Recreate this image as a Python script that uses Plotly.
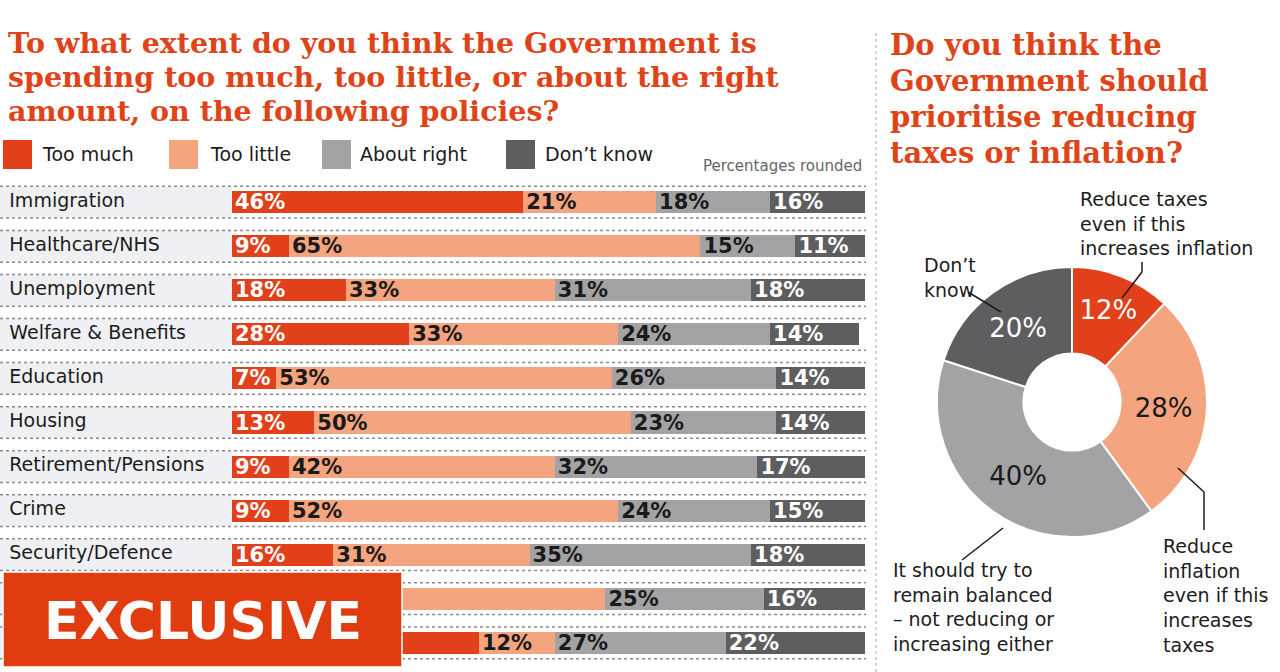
import plotly.graph_objects as go

W, H = 1280, 672

# ---------------- data ----------------
categories = ["Immigration", "Healthcare/NHS", "Unemployment", "Welfare & Benefits",
              "Education", "Housing", "Retirement/Pensions", "Crime",
              "Security/Defence", "Transport", "Foreign aid"]
series_names = ["Too much", "Too little", "About right", "Don\u2019t know"]
too_much = [46, 9, 18, 28, 7, 13, 9, 9, 16, 12, 39]
too_little = [21, 65, 33, 33, 53, 50, 42, 52, 31, 47, 12]
about_right = [18, 15, 31, 24, 26, 23, 32, 24, 35, 25, 27]
dont_know = [16, 11, 18, 14, 14, 14, 17, 15, 18, 16, 22]

pie_labels = ["Reduce taxes even if this increases inflation",
              "Reduce inflation even if this increases taxes",
              "It should try to remain balanced \u2013 not reducing or increasing either",
              "Don\u2019t know"]
pie_values = [12, 28, 40, 20]

left_title = ["To what extent do you think the Government is",
              "spending too much, too little, or about the right",
              "amount, on the following policies?"]
right_title = ["Do you think the", "Government should", "prioritise reducing",
               "taxes or inflation?"]

# ---------------- style ----------------
colors = ["#e2401b", "#f4a47f", "#a3a3a5", "#5e5e60"]
text_colors = ["white", "#1a1a1a", "#1a1a1a", "white"]
ORANGE = "#df4318"
SANS = "DejaVu Sans"
SERIF = "DejaVu Serif"


def px(x):
    return x / W


def py(y):
    return 1 - y / H


fig = go.Figure()

series = [too_much, too_little, about_right, dont_know]
for name, vals, col, tcol in zip(series_names, series, colors, text_colors):
    fig.add_trace(go.Bar(
        y=categories, x=vals, name=name, orientation="h",
        marker=dict(color=col, line=dict(width=0)),
        text=[f"{v}%" for v in vals], textposition="inside",
        insidetextanchor="start", constraintext="none",
        textfont=dict(family=SANS, size=21, color=tcol, weight="bold"),
        showlegend=False, hoverinfo="skip",
    ))

# row labels as a text trace (kept under the EXCLUSIVE box)
fig.add_trace(go.Scatter(
    x=[0.04] * len(categories), y=categories, mode="text", text=categories,
    textposition="middle right", xaxis="x2", yaxis="y",
    textfont=dict(family=SANS, size=19, color="#1c1c1c"),
    showlegend=False, hoverinfo="skip", cliponaxis=False,
))

fig.add_trace(go.Pie(
    values=pie_values, labels=pie_labels, sort=False, direction="clockwise",
    rotation=0, hole=0.36,
    marker=dict(colors=colors, line=dict(color="white", width=2)),
    texttemplate="%{value}%", textposition="inside",
    insidetextorientation="horizontal",
    textfont=dict(family=SANS, size=26, color=text_colors),
    domain=dict(x=[px(1072 - 135), px(1072 + 135)], y=[py(402 + 135), py(402 - 135)]),
    showlegend=False, hoverinfo="skip",
))

shapes = []
annotations = []

# row label backgrounds and dotted separators
for i, cat in enumerate(categories):
    shapes.append(dict(type="rect", xref="paper", yref="y", x0=0, x1=px(232),
                       y0=i - 0.35, y1=i + 0.35, fillcolor="#eef0f3",
                       line=dict(width=0), layer="below"))
    for off in (-0.36, 0.36):
        shapes.append(dict(type="line", xref="paper", yref="y", x0=0, x1=px(866),
                           y0=i + off, y1=i + off,
                           line=dict(color="#8a8a8a", width=1.5, dash="dot"), layer="below"))

# vertical dotted separator
shapes.append(dict(type="line", xref="paper", yref="paper", x0=px(876), x1=px(876),
                   y0=0, y1=py(30), line=dict(color="#b8b8b8", width=1.2, dash="dot")))

# left title
for line, yc in zip(left_title, [43, 77, 111]):
    annotations.append(dict(text=line, xref="paper", yref="paper", x=px(6), y=py(yc),
                            xanchor="left", yanchor="middle", showarrow=False,
                            font=dict(family=SERIF, size=28.5, color=ORANGE, weight="bold")))

# legend
leg_sq = [3, 169, 322, 506]
leg_tx = [40, 208, 358, 543]
for name, col, sx, tx in zip(series_names, colors, leg_sq, leg_tx):
    shapes.append(dict(type="rect", xref="paper", yref="paper", x0=px(sx), x1=px(sx + 29),
                       y0=py(169), y1=py(140), fillcolor=col, line=dict(width=0)))
    annotations.append(dict(text=name, xref="paper", yref="paper", x=px(tx), y=py(154),
                            xanchor="left", yanchor="middle", showarrow=False,
                            font=dict(family=SANS, size=19, color="#1c1c1c")))
annotations.append(dict(text="Percentages rounded", xref="paper", yref="paper",
                        x=px(864), y=py(166), xanchor="right", yanchor="middle",
                        showarrow=False, font=dict(family=SANS, size=15, color="#666666")))

# right title
for line, yc in zip(right_title, [45, 81, 117, 153]):
    annotations.append(dict(text=line, xref="paper", yref="paper", x=px(888), y=py(yc),
                            xanchor="left", yanchor="middle", showarrow=False,
                            font=dict(family=SERIF, size=29, color=ORANGE, weight="bold")))

# donut callouts
lab_font = dict(family=SANS, size=19, color="#1c1c1c")
callouts = [
    dict(text="Reduce taxes<br>even if this<br>increases inflation", x=px(1078), y=py(186)),
    dict(text="Don\u2019t<br>know", x=px(922), y=py(252)),
    dict(text="It should try to<br>remain balanced<br>\u2013 not reducing or<br>increasing either",
         x=px(891), y=py(557)),
    dict(text="Reduce<br>inflation<br>even if this<br>increases<br>taxes", x=px(1161), y=py(533)),
]
for a in callouts:
    a.update(xref="paper", yref="paper", showarrow=False, font=lab_font,
             xanchor="left", yanchor="top", align="left")
    annotations.append(a)

for (x0, y0), (x1, y1) in [((1142, 262), (1142, 272)), ((1142, 272), (1122, 298)),
                           ((968, 292), (1001, 312)),
                           ((962, 560), (1003, 528)),
                           ((1178, 468), (1204, 492)), ((1204, 492), (1204, 530))]:
    shapes.append(dict(type="line", xref="paper", yref="paper", x0=px(x0), x1=px(x1),
                       y0=py(y0), y1=py(y1), line=dict(color="#1c1c1c", width=1.5)))

# EXCLUSIVE box
shapes.append(dict(type="rect", xref="paper", yref="paper", x0=px(3), x1=px(402),
                   y0=py(667), y1=py(572), fillcolor="#e03c10",
                   line=dict(color="white", width=1.5), layer="above"))
annotations.append(dict(text="EXCLUSIVE", xref="paper", yref="paper", x=px(203), y=py(621),
                        xanchor="center", yanchor="middle", showarrow=False,
                        font=dict(family=SANS, size=52, color="white", weight="bold")))

fig.update_layout(
    width=W, height=H, margin=dict(l=0, r=0, t=0, b=0),
    paper_bgcolor="white", plot_bgcolor="rgba(0,0,0,0)",
    barmode="stack", bargap=0.5,
    xaxis=dict(domain=[px(232), px(865)], range=[0, 100], visible=False, fixedrange=True),
    xaxis2=dict(domain=[0, px(232)], range=[0, 1], visible=False, fixedrange=True,
                anchor="y"),
    yaxis=dict(domain=[py(667.25), py(177.75)], autorange="reversed",
               visible=False, fixedrange=True),
    shapes=shapes, annotations=annotations,
    uniformtext=dict(minsize=21, mode="show"),
)

fig.write_html("out.html", config={"displayModeBar": False},
               post_script="document.body.style.margin='0px';")
